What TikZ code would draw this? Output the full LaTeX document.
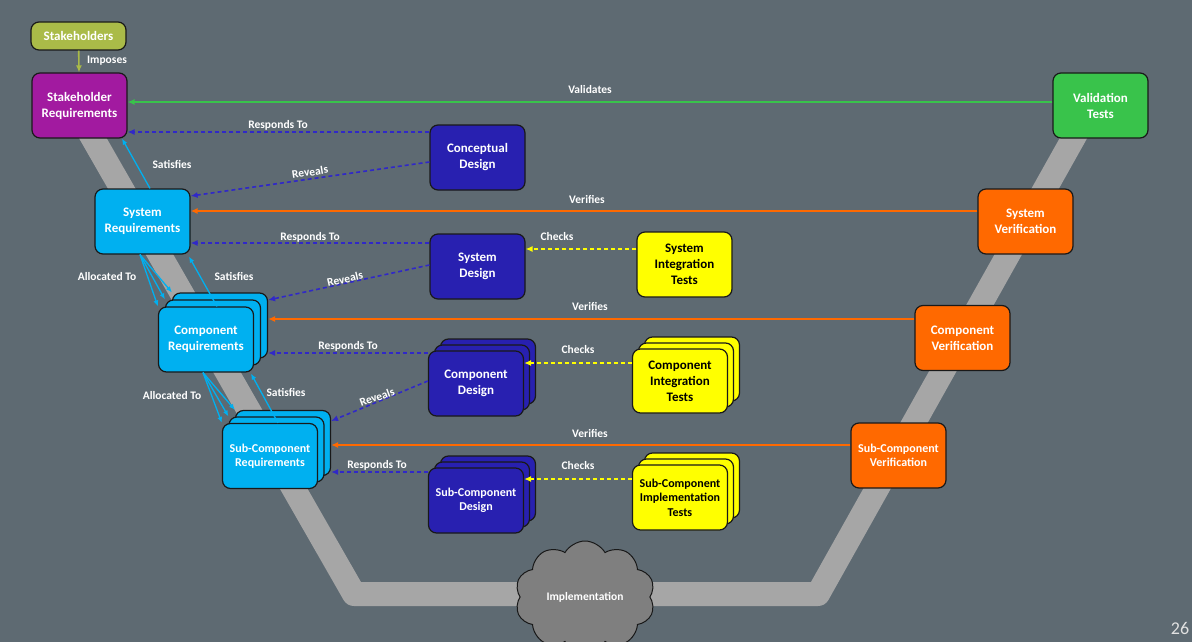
\documentclass[tikz,border=0pt]{standalone}
\usepackage{fontspec}
\setmainfont{Carlito}
\usetikzlibrary{arrows.meta,shapes.symbols}
\definecolor{bg}{RGB}{94,106,114}
\definecolor{vband}{RGB}{166,166,166}
\definecolor{olive}{RGB}{170,187,72}
\definecolor{purp}{RGB}{162,26,160}
\definecolor{grn}{RGB}{57,195,75}
\definecolor{dblue}{RGB}{40,32,176}
\definecolor{cyanb}{RGB}{0,176,240}
\definecolor{orng}{RGB}{255,105,0}
\definecolor{yel}{RGB}{255,255,0}
\definecolor{cloudc}{RGB}{127,127,127}
\definecolor{edgec}{RGB}{25,25,25}
\definecolor{dashblue}{RGB}{48,40,200}
\definecolor{pagenum}{RGB}{225,225,225}
\tikzset{
  box/.style={draw=edgec, line width=1.2pt, rounded corners=8pt, minimum width=95pt,
    minimum height=65pt, align=center, text=white, inner sep=2pt,
    font=\bfseries\fontsize{13}{16}\selectfont},
  smallbox/.style={box, font=\bfseries\fontsize{12}{14.5}\selectfont},
  lbl/.style={font=\bfseries\fontsize{11.5}{13}\selectfont, text=white, inner sep=0pt},
  arr/.style={-{Latex[length=7pt,width=6pt]}, line width=1.6pt},
  dsh/.style={arr, dash pattern=on 4pt off 3pt},
  thinarr/.style={-{Latex[length=6pt,width=5pt]}, line width=1.3pt, cyanb}
}
\begin{document}
\begin{tikzpicture}[x=1pt,y=-1pt]
\fill[bg] (0,0) rectangle (1192,642);
\useasboundingbox (0,0) rectangle (1192,642);
\begin{scope}
\clip (0,0) rectangle (1192,642);
% V band
\draw[vband, line width=24pt, line join=round, line cap=round]
  (87,128) -- (354,594) -- (818,594) -- (1078,130);

% top level
\node[box, fill=olive, minimum height=28pt] (sh) at (78.5,36) {Stakeholders};
\node[box, fill=purp] (shr) at (79.5,105.5) {Stakeholder\\Requirements};
\node[box, fill=grn] (vt) at (1100.5,105.5) {Validation\\Tests};
\node[box, fill=dblue] (cpd) at (477.5,157.5) {Conceptual\\Design};

% system level
\node[box, fill=cyanb] (sr) at (142.5,221.5) {System\\Requirements};
\node[box, fill=orng] (sv) at (1025.5,221.5) {System\\Verification};
\node[box, fill=dblue] (sd) at (477.5,266.5) {System\\Design};
\node[box, fill=yel, text=black] (sit) at (684.5,264.5) {System\\Integration\\Tests};

% component level
\node[box, fill=cyanb] (creq3) at (220,325.5) {};
\node[box, fill=cyanb] (creq2) at (213,332.5) {};
\node[box, fill=cyanb] (creq) at (206,339.5) {Component\\Requirements};
\node[box, fill=orng] (cv) at (962.5,338) {Component\\Verification};
\node[box, fill=dblue] (cd3) at (488,371.5) {};
\node[box, fill=dblue] (cd2) at (482,377.5) {};
\node[box, fill=dblue] (cd) at (476,383.5) {Component\\Design};
\node[box, fill=yel, minimum height=64pt] (cit3) at (692,369) {};
\node[box, fill=yel, minimum height=64pt] (cit2) at (686,375) {};
\node[box, fill=yel, text=black, minimum height=64pt] (cit) at (680,381) {Component\\Integration\\Tests};

% sub-component level
\node[smallbox, fill=cyanb] (sreq3) at (283,443) {};
\node[smallbox, fill=cyanb] (sreq2) at (276.5,449.5) {};
\node[smallbox, fill=cyanb] (sreq) at (270,456) {Sub-Component\\Requirements};
\node[smallbox, fill=orng] (scv) at (898.5,455.5) {Sub-Component\\Verification};
\node[smallbox, fill=dblue] (scd3) at (488,488.5) {};
\node[smallbox, fill=dblue] (scd2) at (482,494.5) {};
\node[smallbox, fill=dblue] (scd) at (476,500.5) {Sub-Component\\Design};
\node[smallbox, fill=yel] (scit3) at (692,485.5) {};
\node[smallbox, fill=yel] (scit2) at (686,491.5) {};
\node[smallbox, fill=yel, text=black] (scit) at (680,497.5) {Sub-Component\\Implementation\\Tests};

% implementation cloud
\node[cloud, cloud puffs=10, cloud puff arc=120, aspect=1.25, draw=edgec, line width=1pt,
  fill=cloudc, minimum width=140pt, minimum height=112pt, lbl] (impl) at (585,597) {Implementation};
\end{scope}

% connectors
\draw[arr, olive] (sh) -- (shr);
\node[lbl] at (107,61) {Imposes};

\draw[arr, grn] (vt.west |- 0,102) -- (shr.east |- 0,102);
\node[lbl] at (590,90) {Validates};

\draw[dsh, dashblue] (cpd.west |- 0,132) -- (shr.east |- 0,132);
\node[lbl] at (278,125) {Responds To};
\draw[dsh, dashblue] (cpd.west |- 0,162) -- (sr.east |- 0,196);
\node[lbl, rotate=9] at (310,172) {Reveals};

\draw[thinarr] (sr.north -| 150,0) -- (shr.south -| 122,0);
\node[lbl] at (172,164) {Satisfies};

\draw[arr, orng] (sv.west |- 0,211) -- (sr.east |- 0,211);
\node[lbl] at (587,199) {Verifies};
\draw[dsh, dashblue] (sd.west |- 0,243) -- (sr.east |- 0,243);
\node[lbl] at (310,237) {Responds To};
\draw[dsh, yel] (sit.west |- 0,249) -- (sd.east |- 0,249);
\node[lbl] at (557,237) {Checks};

\draw[thinarr] (sr.south -| 140,0) -- (creq.north west);
\draw[thinarr] (sr.south -| 140,0) -- (creq2.north west);
\draw[thinarr] (sr.south -| 140,0) -- (creq3.north west);
\node[lbl] at (107,277) {Allocated To};
\draw[thinarr] (creq.north -| 217,0) -- ([yshift=-2pt]sr.south -| 189,0);
\node[lbl] at (234,276) {Satisfies};

\draw[dsh, dashblue] (sd.west |- 0,265) -- (creq3.east |- 0,300);
\node[lbl, rotate=13] at (345,279) {Reveals};
\draw[arr, orng] (cv.west |- 0,319) -- (creq3.east |- 0,319);
\node[lbl] at (590,306) {Verifies};
\draw[dsh, dashblue] (cd.west |- 0,353) -- (creq3.east |- 0,353);
\node[lbl] at (348,346) {Responds To};
\draw[dsh, yel] (cit.west |- 0,363) -- (cd.east |- 0,363);
\node[lbl] at (578,350) {Checks};

\draw[thinarr] (creq.south -| 203,0) -- (sreq.north west);
\draw[thinarr] (creq.south -| 203,0) -- (sreq2.north west);
\draw[thinarr] (creq.south -| 203,0) -- (sreq3.north west);
\node[lbl] at (172,396) {Allocated To};
\draw[thinarr] (sreq.north -| 278,0) -- ([yshift=-1pt]creq.south -| 251,0);
\node[lbl] at (286,392) {Satisfies};

\draw[dsh, dashblue] (cd.west |- 0,381) -- (sreq3.east |- 0,421);
\node[lbl, rotate=20] at (377,397) {Reveals};
\draw[arr, orng] (scv.west |- 0,445) -- (sreq3.east |- 0,445);
\node[lbl] at (590,433) {Verifies};
\draw[dsh, dashblue] (scd.west |- 0,472) -- (sreq3.east |- 0,472);
\node[lbl] at (377,465) {Responds To};
\draw[dsh, yel] (scit.west |- 0,479) -- (scd.east |- 0,479);
\node[lbl] at (578,466) {Checks};

\node[font=\fontsize{18}{20}\selectfont, text=pagenum, inner sep=0pt] (pg) at (1180,628) {26};
\end{tikzpicture}
\end{document}
